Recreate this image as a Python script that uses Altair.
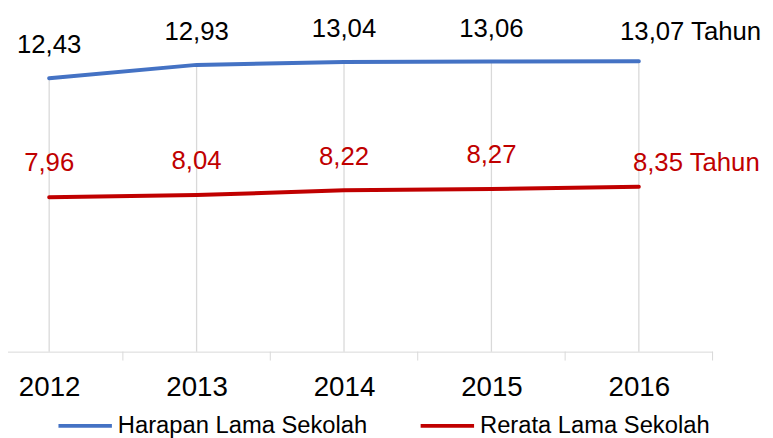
import altair as alt
import pandas as pd

years = [2012, 2013, 2014, 2015, 2016]
harapan = [12.43, 12.93, 13.04, 13.06, 13.07]
rerata = [7.96, 8.04, 8.22, 8.27, 8.35]
series_names = ["Harapan Lama Sekolah", "Rerata Lama Sekolah"]
series_colors = ["#4472C4", "#C00000"]
label_colors = ["#000000", "#C00000"]
unit = "Tahun"

rows = []
for name, vals, lc in zip(series_names, [harapan, rerata], label_colors):
    for i, (yr, v) in enumerate(zip(years, vals)):
        lab = f"{v:.2f}".replace(".", ",")
        last = i == len(years) - 1
        if last:
            lab = lab + " " + unit
        rows.append({"year": yr, "value": v, "series": name, "label": lab,
                     "last": last, "lcolor": lc})
df = pd.DataFrame(rows)
df_top = pd.DataFrame({"year": years, "value": harapan})
df_bounds = pd.DataFrame({"b": [y + 0.5 for y in years]})

FONT = "Liberation Sans"
H = 353
W = 720

xscale = alt.Scale(domain=[2011.667, 2016.5], nice=False, zero=False)
yscale = alt.Scale(domain=[2.16, 15.28], nice=False, zero=False)

xaxis = alt.Axis(values=years, format="d", labelFontSize=28, labelFont=FONT,
                 labelColor="#000000", domainColor="#d9d9d9", domainWidth=1,
                 ticks=False, grid=False, title=None, labelBaseline="alphabetic",
                 labelPadding=44, labelFlush=False, labelOverlap=False)

base = alt.Chart(df)

drop = alt.Chart(df_top).mark_rule(color="#d9d9d9", strokeWidth=1.3).encode(
    x=alt.X("year:Q", scale=xscale, axis=xaxis),
    y=alt.Y("value:Q", scale=yscale, axis=None),
    y2=alt.value(H),
)

ticks = alt.Chart(df_bounds).mark_rule(color="#d9d9d9", strokeWidth=1).encode(
    x=alt.X("b:Q", scale=xscale),
    y=alt.value(H),
    y2=alt.value(H + 9),
)

lines = base.mark_line(strokeWidth=4, strokeCap="round").encode(
    x=alt.X("year:Q", scale=xscale),
    y=alt.Y("value:Q", scale=yscale),
    color=alt.Color("series:N",
                    scale=alt.Scale(domain=series_names, range=series_colors),
                    legend=alt.Legend(orient="none", legendX=57, legendY=399,
                                      direction="horizontal", title=None,
                                      symbolType="stroke", symbolSize=2916,
                                      symbolStrokeWidth=4, labelFontSize=24,
                                      labelFont=FONT, labelColor="#000000",
                                      labelOffset=4, columnPadding=45,
                                      padding=0, labelLimit=400)),
)

def labels(series, last, dx, dy, align):
    return base.transform_filter(
        (alt.datum.series == series) & (alt.datum.last == last)
    ).mark_text(fontSize=26, font=FONT, align=align, baseline="middle",
                dx=dx, dy=dy).encode(
        x=alt.X("year:Q", scale=xscale),
        y=alt.Y("value:Q", scale=yscale),
        text="label:N",
        color=alt.Color("lcolor:N", scale=None),
    )

lab_layers = [
    labels(series_names[0], False, 0, -33, "center"),
    labels(series_names[1], False, 0, -34, "center"),
    labels(series_names[0], True, -19, -29, "left"),
    labels(series_names[1], True, -6, -24, "left"),
]

chart = alt.layer(drop, ticks, lines, *lab_layers).properties(
    width=W, height=H,
    autosize=alt.AutoSizeParams(type="none"),
    padding={"left": -8, "top": -8, "right": 53, "bottom": 85},
).configure_view(stroke=None)

chart.save("out.html", embed_options={"renderer": "svg", "actions": False})
